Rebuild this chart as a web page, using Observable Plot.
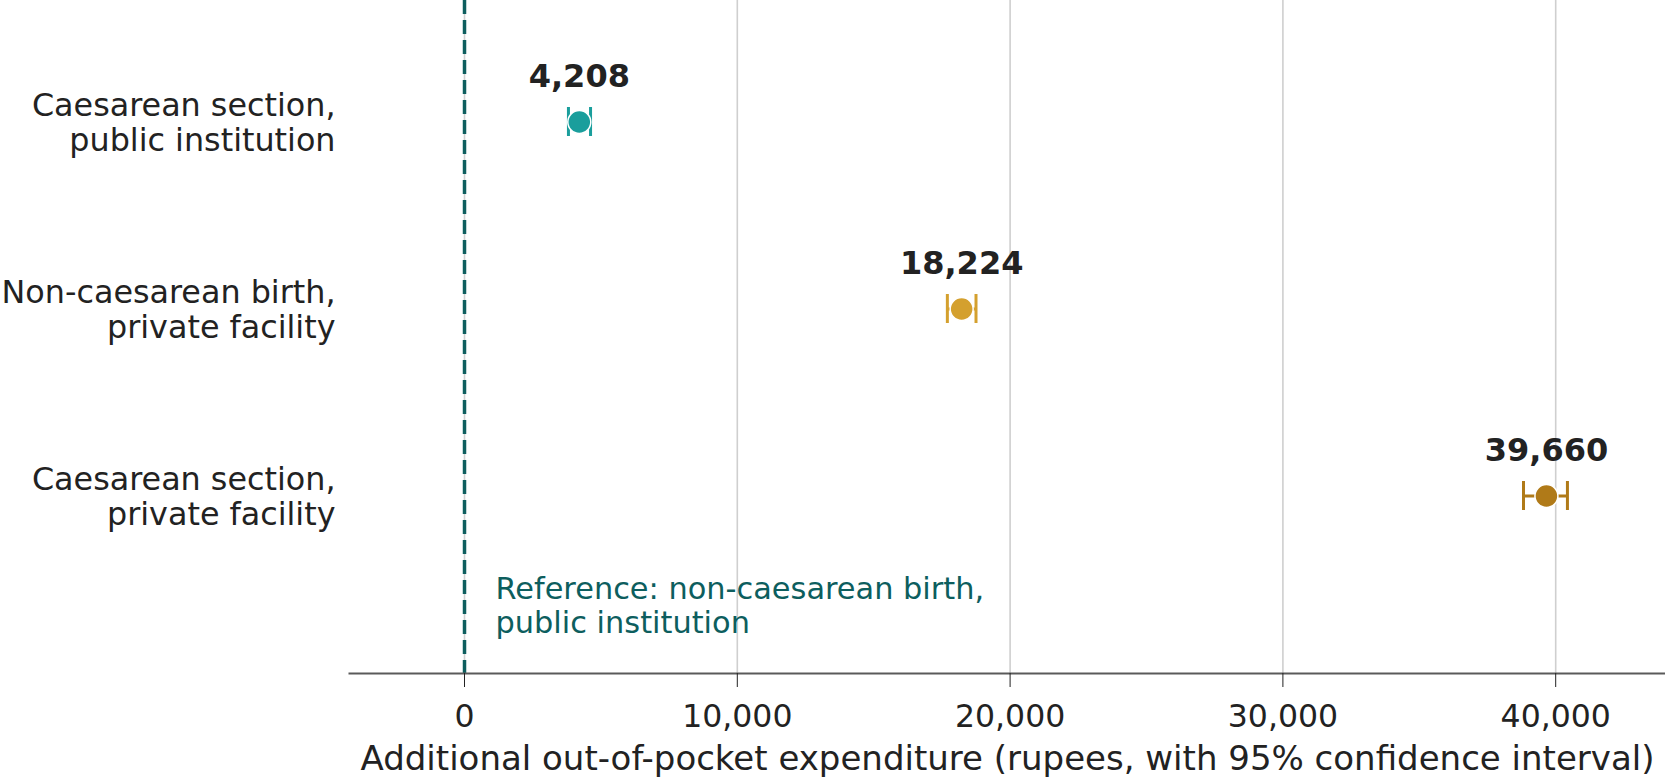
<!DOCTYPE html>
<html><head><meta charset="utf-8">
<script src="https://cdn.jsdelivr.net/npm/d3@7"></script>
<script src="https://cdn.jsdelivr.net/npm/@observablehq/plot@0.6"></script>
<style>body{margin:0;background:#fff}</style>
</head><body><div id="chart"></div>
<script>
const categories = ["Caesarean section,\npublic institution", "Non-caesarean birth,\nprivate facility", "Caesarean section,\nprivate facility"];
const estimates = [4208, 18224, 39660];
const ciLow = [3810, 17700, 38820];
const ciHigh = [4620, 18750, 40430];
const colors = ["#1a9e9c", "#d4a02e", "#b07a18"];
const xTicks = [0, 10000, 20000, 30000, 40000];
const referenceValue = [0];
const referenceLabel = "Reference: non-caesarean birth,\npublic institution";
const xLabel = "Additional out-of-pocket expenditure (rupees, with 95% confidence interval)";

const data = categories.map((c, i) => ({category: c, est: estimates[i], lo: ciLow[i], hi: ciHigh[i], color: colors[i]}));
const fmt = d3.format(",");

const chart = Plot.plot({
  width: 1665,
  height: 779,
  marginTop: 0,
  marginRight: 0,
  marginLeft: 349,
  marginBottom: 106,
  style: {fontFamily: "DejaVu Sans", fontSize: "31.5px", color: "#222", background: "#fff"},
  x: {domain: [-4216, 44025]},
  y: {type: "band", domain: categories, range: [27.25, 589.75], padding: 0},
  marks: [
    Plot.gridX(xTicks, {stroke: "#cfcfcf", strokeOpacity: 1, strokeWidth: 1.6}),
    Plot.ruleX(referenceValue, {stroke: "#0d5e5e", strokeWidth: 3.5, strokeDasharray: "14,6"}),
    Plot.frame({anchor: "bottom", stroke: "#5a5a5a", strokeWidth: 2}),
    Plot.axisX({ticks: xTicks, tickFormat: fmt, tickSize: 14, tickPadding: 17, fontSize: 31.5,
      label: null, stroke: "#222"}),
    Plot.axisX({ticks: [], label: xLabel, labelAnchor: "center", labelArrow: "none", labelOffset: 96, fontSize: 34}),
    Plot.axisY({tickSize: 0, tickPadding: 14, fontSize: 31.8, lineHeight: 1.1, label: null}),
    Plot.ruleY(data, {y: "category", x1: "lo", x2: "hi", stroke: "color", strokeWidth: 3}),
    Plot.tickX(data, {x: "lo", y: "category", insetTop: 79, insetBottom: 79, stroke: "color", strokeWidth: 3}),
    Plot.tickX(data, {x: "hi", y: "category", insetTop: 79, insetBottom: 79, stroke: "color", strokeWidth: 3}),
    Plot.dot(data, {x: "est", y: "category", r: 11.5, fill: "color", stroke: "white", strokeWidth: 1.5}),
    Plot.text(data, {x: "est", y: "category", text: d => fmt(d.est), dy: -45, fontWeight: "bold", fontSize: 32, fill: "#222"}),
    Plot.text(referenceValue, {x: d => d, text: () => referenceLabel, frameAnchor: "bottom", dx: 31, dy: -41,
      textAnchor: "start", lineHeight: 1.1, fontSize: 30.4, fill: "#0d5e5e"})
  ]
});
document.getElementById("chart").append(chart);
</script>
</body></html>
